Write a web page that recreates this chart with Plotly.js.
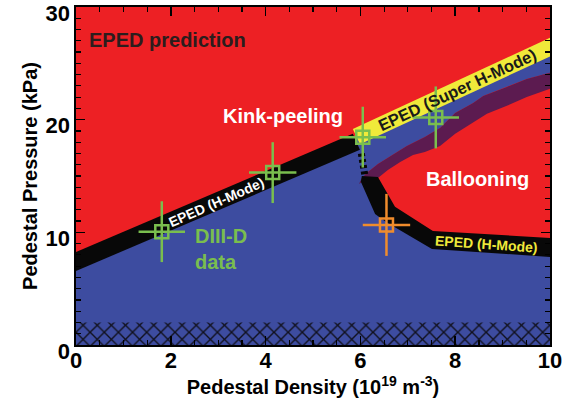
<!DOCTYPE html>
<html>
<head>
<meta charset="utf-8">
<script src="https://cdn.plot.ly/plotly-3.0.1.min.js"></script>
<style>html,body{margin:0;padding:0;background:#fff}#chart{width:566px;height:409px}</style>
</head>
<body>
<div id="chart"></div>
<script>
// ---- Region boundaries (density 1e19 m^-3, pressure kPa) ----
// Upper EPED (H-Mode) band: kink-peeling limit
const hmodeTopX = [-0.3, 5.84];
const hmodeTopY = [7.72, 18.74];
const hmodeBotX = [5.99, -0.3];
const hmodeBotY = [17.32, 6.03];
const hmodeMidX = [-0.3, 5.9];
const hmodeMidY = [6.9, 17.98];

// EPED (Super H-Mode) band
const superTopX = [5.84, 10.2];
const superTopY = [19.18, 27.65];
const superBotX = [10.2, 5.99];
const superBotY = [26.0, 17.82];
const superMidX = [5.95, 10.2];
const superMidY = [18.55, 26.8];

// Lower EPED (H-Mode) band: ballooning limit
const lowTopX = [6.03, 6.37, 6.73, 7.53, 10.2];
const lowTopY = [15.01, 14.92, 12.26, 10.12, 9.45];
const lowBotX = [10.2, 7.51, 6.54, 6.31, 6.01];
const lowBotY = [7.76, 8.53, 10.92, 11.63, 14.48];
const lowMidX = [6.15, 6.5, 7.52, 10.2];
const lowMidY = [14.8, 11.8, 9.3, 8.6];

// Purple transition band (upper edge right->left, lower edge left->right)
const purpleUpX = [10.2, 9.51, 9.09, 8.59, 8.38, 8.0, 7.68, 7.36, 6.98, 6.67, 6.37, 6.16, 6.03, 5.97];
const purpleUpY = [24.4, 23.62, 22.91, 22.11, 21.49, 20.6, 19.27, 18.47, 17.67, 16.87, 16.07, 15.36, 14.83, 14.3];
const purpleLoX = [6.2, 6.37, 6.58, 6.84, 7.11, 7.36, 7.68, 8.0, 8.38, 8.67, 9.09, 9.51, 10.2];
const purpleLoY = [14.9, 14.83, 15.54, 16.25, 16.87, 17.14, 17.67, 18.74, 19.72, 20.52, 21.23, 22.02, 23.05];

// Dashed link between the bands
const linkX = [6.02, 6.1];
const linkY = [17.0, 14.9];

// Hatched low-pressure strip
const hatchX = [-0.2, 10.2, 10.2, -0.2];
const hatchY = [0, 0, 2.0, 2.0];

// DIII-D data
const diiidX = [1.81, 4.15, 6.05, 7.59];
const diiidY = [10.06, 15.3, 18.45, 20.2];
const diiidXErr = [0.49, 0.5, 0.49, 0.49];
const diiidYErr = [2.7, 2.7, 2.7, 2.75];

// Orange point
const orangeX = [6.55];
const orangeY = [10.66];
const orangeXErr = [0.5];
const orangeYErr = [2.75];

// ---- Colours ----
const RED = '#ED2024', BLUE = '#3D4CA0', PURPLE = '#5C1B50', YELLOW = '#F0EA3A',
      BLACK = '#080808', GREEN = '#7ABE4E', ORANGE = '#F08C2C';

const cat = (...a) => [].concat(...a);

// stable (blue) region
const stableX = cat([-0.3], hmodeMidX, superMidX, purpleUpX.slice(0, 13), lowMidX, [10.2, -0.3]);
const stableY = cat([-1], hmodeMidY, superMidY, purpleUpY.slice(0, 13), lowMidY, [-1, -1]);

function poly(x, y, color) {
  return {x: x, y: y, type: 'scatter', mode: 'lines', fill: 'toself',
          fillcolor: color, line: {width: 0, color: color}, hoverinfo: 'skip'};
}

const traces = [
  poly(stableX, stableY, BLUE),
  poly(cat(purpleUpX, purpleLoX), cat(purpleUpY, purpleLoY), PURPLE),
  {x: hatchX, y: hatchY, type: 'scatter', mode: 'lines', fill: 'toself',
   fillcolor: BLUE, line: {width: 0, color: BLUE}, hoverinfo: 'skip',
   fillpattern: {shape: 'x', size: 10, solidity: 0.25, fgcolor: '#10101c', bgcolor: BLUE, fillmode: 'replace'}},
  poly(cat(lowTopX, lowBotX), cat(lowTopY, lowBotY), BLACK),
  poly(cat(hmodeTopX, hmodeBotX), cat(hmodeTopY, hmodeBotY), BLACK),
  poly(cat(superTopX, superBotX), cat(superTopY, superBotY), YELLOW),
  {x: linkX, y: linkY, type: 'scatter', mode: 'lines',
   line: {width: 7, color: BLACK, dash: '3px,3px'}, hoverinfo: 'skip'},
  {x: diiidX, y: diiidY, type: 'scatter', mode: 'markers',
   marker: {symbol: 'square-open', size: 13, color: GREEN, line: {width: 2.5, color: GREEN}},
   error_x: {type: 'data', array: diiidXErr, visible: true, color: GREEN, thickness: 2.5, width: 0},
   error_y: {type: 'data', array: diiidYErr, visible: true, color: GREEN, thickness: 2.5, width: 0},
   hoverinfo: 'skip'},
  {x: orangeX, y: orangeY, type: 'scatter', mode: 'markers',
   marker: {symbol: 'square-open', size: 13, color: ORANGE, line: {width: 2.5, color: ORANGE}},
   error_x: {type: 'data', array: orangeXErr, visible: true, color: ORANGE, thickness: 2.5, width: 0},
   error_y: {type: 'data', array: orangeYErr, visible: true, color: ORANGE, thickness: 2.5, width: 0},
   hoverinfo: 'skip'}
];

const FONT = 'Liberation Sans, Arial, Helvetica, sans-serif';
function ann(text, x, y, size, color, angle, extra) {
  return Object.assign({text: text, x: x, y: y, xref: 'x', yref: 'y', showarrow: false,
    textangle: angle || 0, font: {family: FONT, size: size, color: color, weight: 'bold'}}, extra || {});
}

const axisCommon = {
  ticks: 'inside', ticklen: 9, tickwidth: 1.5, tickcolor: '#000',
  showline: true, linewidth: 1.6, linecolor: '#000', mirror: 'ticks',
  showgrid: false, zeroline: false, automargin: false,
  ticklabeloverflow: 'allow',
  tickfont: {family: FONT, size: 22, color: '#000', weight: 'bold'}
};

const layout = {
  width: 566, height: 409,
  margin: {l: 76, r: 16, t: 7, b: 64},
  paper_bgcolor: '#ffffff', plot_bgcolor: RED,
  showlegend: false, hovermode: false,
  font: {family: FONT, color: '#000'},
  xaxis: Object.assign({}, axisCommon, {
    range: [0, 10], tick0: 0, dtick: 2,
    ticklabelstandoff: -5,
    minor: {dtick: 0.5, ticks: 'inside', ticklen: 5, tickwidth: 1.2, tickcolor: '#000'},
    title: {text: 'Pedestal Density (10<sup>19</sup> m<sup>-3</sup>)', standoff: 6,
            font: {family: FONT, size: 20, color: '#000', weight: 'bold'}}
  }),
  yaxis: Object.assign({}, axisCommon, {
    range: [0, 30], tick0: 0, dtick: 10,
    ticklabelshift: 6,
    minor: {dtick: 1, ticks: 'inside', ticklen: 5, tickwidth: 1.2, tickcolor: '#000'},
    title: {text: 'Pedestal Pressure (kPa)', standoff: 2,
            font: {family: FONT, size: 20, color: '#000', weight: 'bold'}}
  }),
  annotations: [
    ann('EPED prediction', 1.94, 27.1, 20, '#2b1d1d'),
    ann('Kink-peeling', 4.36, 20.35, 20, '#ffffff'),
    ann('Ballooning', 8.47, 14.74, 20, '#ffffff'),
    ann('DIII-D<br>data', 2.47, 8.5, 20, GREEN, 0, {xanchor: 'left', align: 'left'}),
    ann('EPED (H-Mode)', 2.97, 12.7, 14, '#ffffff', -24),
    ann('EPED (Super H-Mode)', 8.03, 22.65, 16.5, '#1a1a1a', -25),
    ann('EPED (H-Mode)', 8.65, 9.0, 14, YELLOW, 4)
  ]
};

Plotly.newPlot('chart', traces, layout, {staticPlot: true, displayModeBar: false});
</script>
</body>
</html>
